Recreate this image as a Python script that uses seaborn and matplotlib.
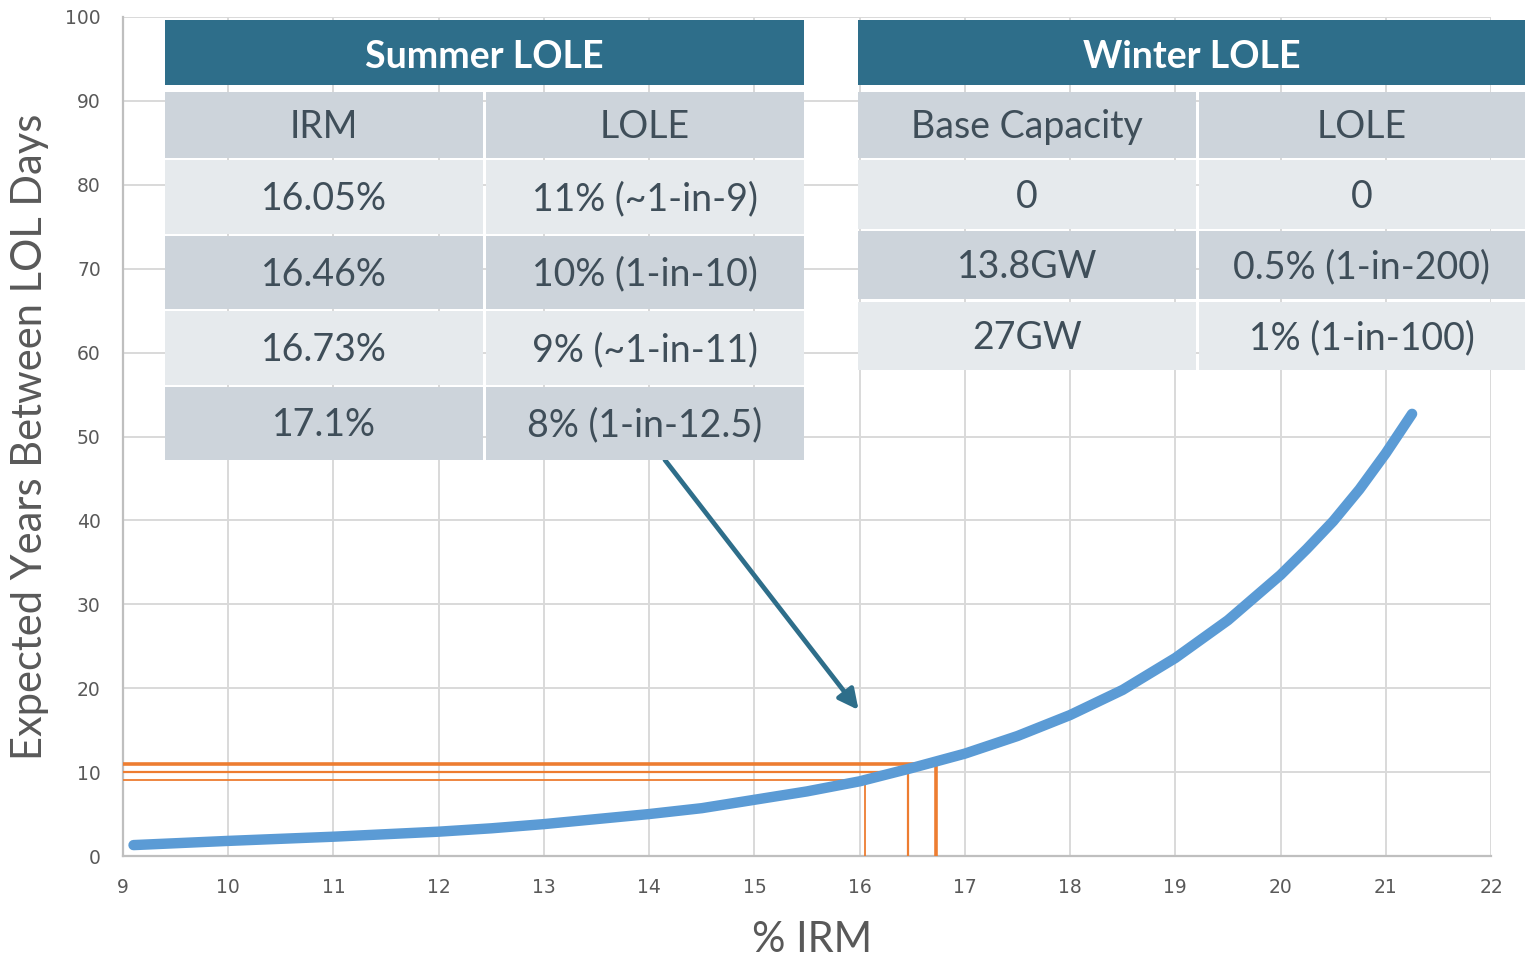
import matplotlib
matplotlib.use("Agg")
import matplotlib.pyplot as plt
import seaborn as sns
import pandas as pd
from matplotlib.patches import Rectangle

# curve: % IRM vs expected years between LOL days
irm = [9.1, 10, 11, 12, 12.5, 13, 13.5, 14, 14.5, 15, 15.5, 16, 16.5,
       17, 17.5, 18, 18.5, 19, 19.5, 20, 20.25, 20.5, 20.75, 21, 21.25]
years = [1.3, 1.8, 2.3, 2.9, 3.3, 3.8, 4.4, 5.0, 5.7, 6.7, 7.7, 8.9, 10.5,
         12.2, 14.3, 16.8, 19.8, 23.6, 28.1, 33.5, 36.6, 39.9, 43.7, 48.0, 52.7]

# orange guide lines (irm, years)
guide_irm = [16.05, 16.46, 16.73]
guide_years = [9, 10, 11]

# arrow from summer table to curve
arrow_start = (14.15, 47.2)
arrow_end = (15.99, 17.4)

summer_title = "Summer LOLE"
summer_header = ["IRM", "LOLE"]
summer_irm = ["16.05%", "16.46%", "16.73%", "17.1%"]
summer_lole = ["11% (~1-in-9)", "10% (1-in-10)", "9% (~1-in-11)", "8% (1-in-12.5)"]

winter_title = "Winter LOLE"
winter_header = ["Base Capacity", "LOLE"]
winter_cap = ["0", "13.8GW", "27GW"]
winter_lole = ["0", "0.5% (1-in-200)", "1% (1-in-100)"]

TEAL = "#2E6E8A"
ROW_DARK = "#CDD4DB"
ROW_LIGHT = "#E6EAED"
TXT = "#3F4E59"
GRAY = "#595959"
ORANGE = "#ED7D31"
BLUE = "#5B9BD5"

sns.set_theme(style="whitegrid")
plt.rcParams["font.family"] = ["Lato", "DejaVu Sans"]

W, H = 1525, 959
fig = plt.figure(figsize=(W / 100, H / 100), dpi=100)
ax = fig.add_axes([123 / W, 1 - 856 / H, (1491 - 123) / W, (856 - 17) / H])

df = pd.DataFrame({"irm": irm, "years": years})

# guide lines under the curve
widths = [1.3, 1.6, 2.6]
for gx, gy, lw in zip(guide_irm, guide_years, widths):
    ax.plot([9, gx, gx], [gy, gy, 0], color=ORANGE, lw=lw, zorder=3)

sns.lineplot(data=df, x="irm", y="years", ax=ax, color=BLUE, lw=7.5,
             zorder=4, solid_capstyle="round", solid_joinstyle="round")

ax.annotate("", xy=arrow_end, xytext=arrow_start,
            arrowprops=dict(arrowstyle="-|>", color=TEAL, lw=3.4,
                            mutation_scale=30, shrinkA=0, shrinkB=0),
            zorder=5)

ax.set_xlim(9, 22)
ax.set_ylim(0, 100)
ax.set_xticks(range(9, 23))
ax.set_yticks(range(0, 101, 10))
ax.set_xlabel("")
ax.set_ylabel("")
ax.grid(True, color="#D9D9D9", lw=1.4)
for s in ["top", "right"]:
    ax.spines[s].set_visible(False)
for s in ["left", "bottom"]:
    ax.spines[s].set_color("#BFBFBF")
    ax.spines[s].set_linewidth(1.6)
ax.tick_params(axis="both", length=0, labelsize=13.5, labelcolor=GRAY)
ax.tick_params(axis="x", pad=16)
ax.tick_params(axis="y", pad=16)
for lab in ax.get_xticklabels() + ax.get_yticklabels():
    lab.set_fontfamily("DejaVu Sans")

fig.text(30 / W, 1 - 437 / H, "Expected Years Between LOL Days", rotation=90,
         ha="center", va="center", fontsize=30, color=GRAY)
fig.text(812 / W, 1 - 940 / H, "% IRM", ha="center", va="center",
         fontsize=30, color=GRAY)

# overlay in pixel coordinates for the two tables
ov = fig.add_axes([0, 0, 1, 1], zorder=10)
ov.set_xlim(0, W)
ov.set_ylim(H, 0)
ov.axis("off")
ov.patch.set_alpha(0)


def cell(x0, y0, x1, y1, color, text, tcolor=TXT, bold=False, size=27, dy=2):
    ov.add_patch(Rectangle((x0, y0), x1 - x0, y1 - y0, facecolor=color,
                           edgecolor="none"))
    ov.text((x0 + x1) / 2, (y0 + y1) / 2 + dy, text, ha="center", va="center",
            fontsize=size, color=tcolor,
            fontweight="bold" if bold else "normal")


def table(left, split, right, title, header, col1, col2, rows):
    cell(left, 20, right, 85, TEAL, title, tcolor="white", bold=True,
         size=27, dy=5)
    colors = [ROW_DARK] + [ROW_LIGHT if i % 2 == 0 else ROW_DARK
                           for i in range(len(col1))]
    texts = [header] + list(zip(col1, col2))
    for (y0, y1), c, (a, b) in zip(rows, colors, texts):
        cell(left, y0, split - 1.5, y1, c, a)
        cell(split + 1.5, y0, right, y1, c, b)


table(165, 484, 804, summer_title, summer_header, summer_irm, summer_lole,
      [(92, 158), (160, 234), (236, 309), (311, 385), (387, 460)])
table(858, 1197, 1525, winter_title, winter_header, winter_cap, winter_lole,
      [(92, 158), (160, 229), (231, 299), (302, 370)])

fig.savefig("out.png", dpi=100)
